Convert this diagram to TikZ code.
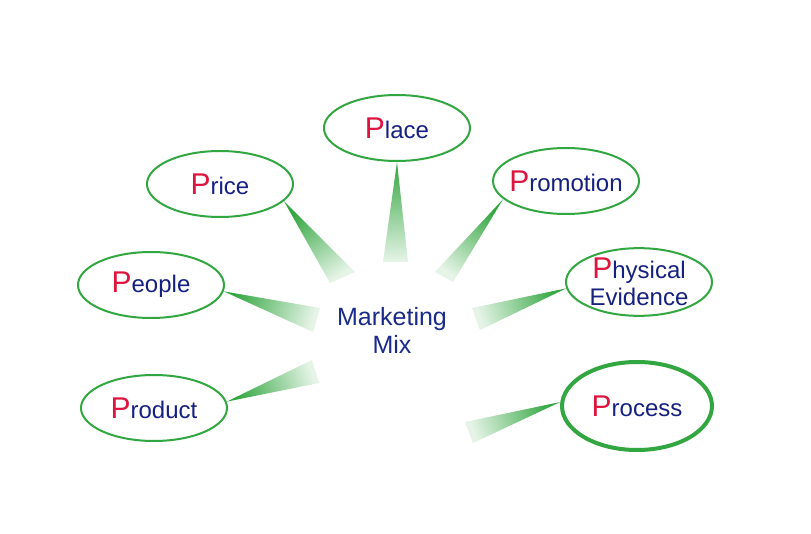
\documentclass[tikz,border=0pt]{standalone}
\usepackage{fontspec}
\setmainfont{Liberation Sans}
\usepackage{xcolor}
\usetikzlibrary{shapes.geometric}
\definecolor{ringgreen}{RGB}{50,166,64}
\definecolor{pred}{RGB}{222,20,62}
\definecolor{pblue}{RGB}{22,32,128}
\definecolor{mixblue}{RGB}{26,42,138}
\newcommand{\redP}{{\fontsize{30}{30}\selectfont\color{pred}P}}

\begin{document}
\begin{tikzpicture}[x=1pt,y=-1pt,
    pbox/.style={ellipse, draw=ringgreen, line width=2pt, minimum width=146pt,
      minimum height=66pt, inner sep=0pt, text=pblue,
      font=\fontsize{24}{27}\selectfont, align=center},
    spoke/.style={top color=ringgreen, bottom color=ringgreen!12}]
  \useasboundingbox[fill=white] (0,0) rectangle (811,534);
  % the seven P's
  \node[pbox] (place) at (397,128) {\redP lace};
  \node[pbox] (price) at (220,184) {\redP rice};
  \node[pbox, inner xsep=-6pt] (promotion) at (566,181) {\redP romotion};
  \node[pbox] (people) at (151,285) {\redP eople};
  \node[pbox] (physical) at (639,282) {\redP hysical\\Evidence};
  \node[pbox] (product) at (154,408) {\redP roduct};
  \node[pbox, line width=4pt, minimum width=150pt, minimum height=88pt] (process) at (637,406) {\redP rocess};
  \node[text=mixblue, font=\fontsize{25}{28}\selectfont, align=center] (mix) at (392,330) {Marketing\\Mix};
  % wide ends of the spokes
  \coordinate (place-l) at (383,262);  \coordinate (place-r) at (408,262);
  \coordinate (price-l) at (330,283);  \coordinate (price-r) at (355,272);
  \coordinate (promo-l) at (435,272);  \coordinate (promo-r) at (453,282);
  \coordinate (people-l) at (320,308); \coordinate (people-r) at (313,332);
  \coordinate (phys-l) at (472,308);   \coordinate (phys-r) at (480,330);
  \coordinate (prod-l) at (312,360);   \coordinate (prod-r) at (319,383);
  \coordinate (proc-l) at (465,422);   \coordinate (proc-r) at (473,443);
  % spokes
  \shade[spoke, shading angle=0] (place.south) -- (place-l) -- (place-r) -- cycle;
  \shade[spoke, shading angle=34] (price.-15) -- (price-l) -- (price-r) -- cycle;
  \shade[spoke, shading angle=-36] (promotion.-164) -- (promo-l) -- (promo-r) -- cycle;
  \shade[spoke, shading angle=72.8] (people.-5) -- (people-l) -- (people-r) -- cycle;
  \shade[spoke, shading angle=-71.4] (physical.185) -- (phys-l) -- (phys-r) -- cycle;
  \shade[spoke, shading angle=108.6] (product.5) -- (prod-l) -- (prod-r) -- cycle;
  \shade[spoke, shading angle=-71.5] (process.177) -- (proc-l) -- (proc-r) -- cycle;
\end{tikzpicture}
\end{document}
